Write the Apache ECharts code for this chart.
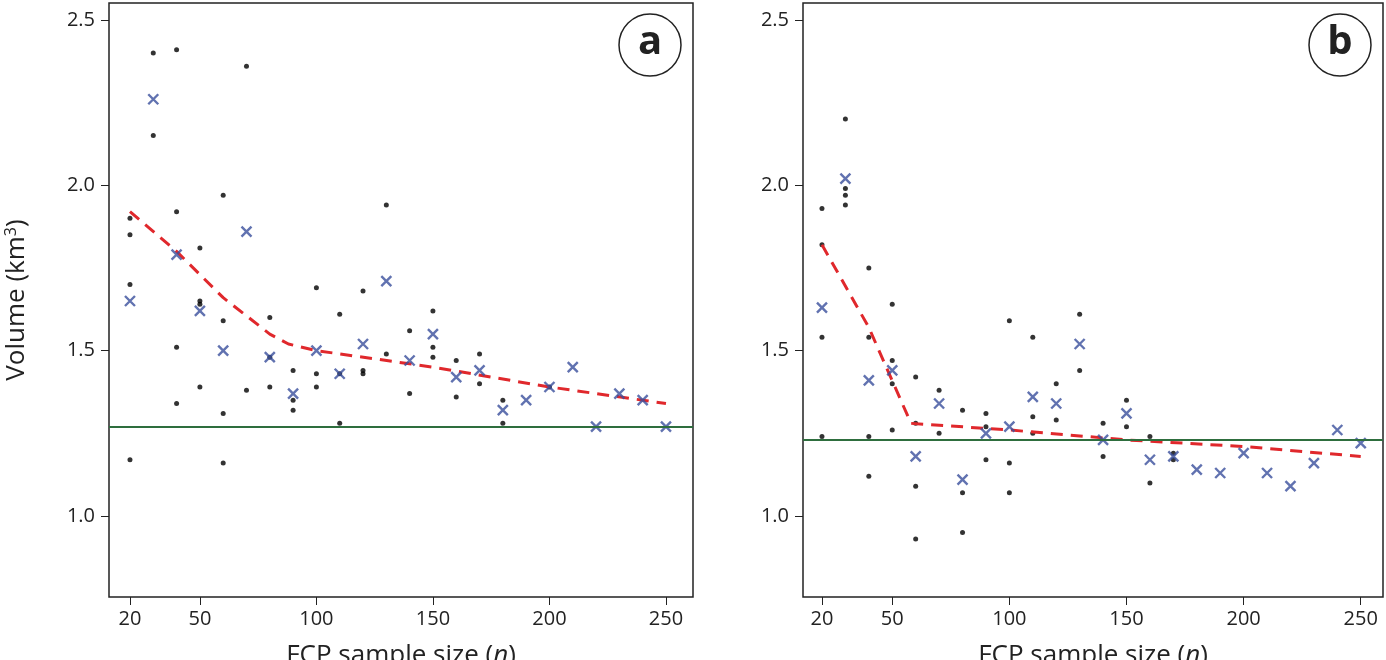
<!DOCTYPE html>
<html>
<head>
<meta charset="utf-8">
<script src="https://cdn.jsdelivr.net/npm/echarts@6/dist/echarts.min.js"></script>
<style>html,body,#main{width:100%;height:100%;margin:0;padding:0;background:#fff}</style>
</head>
<body>
<div id="main"></div>
<script>
// sample sizes
var sizes = [20,30,40,50,60,70,80,90,100,110,120,130,140,150,160,170,180,190,200,210,220,230,240,250];
var xTicks = [20,50,100,150,200,250];
var yTicks = [1.0,1.5,2.0,2.5];

// panel a
var aMeans = [1.65,2.26,1.79,1.62,1.50,1.86,1.48,1.37,1.50,1.43,1.52,1.71,1.47,1.55,1.42,1.44,1.32,1.35,1.39,1.45,1.27,1.37,1.35,1.27];
var aDots = [[20,1.90],[20,1.85],[20,1.70],[20,1.17],[30,2.40],[30,2.15],[40,2.41],[40,1.92],[40,1.51],[40,1.34],
  [50,1.81],[50,1.65],[50,1.64],[50,1.39],[60,1.97],[60,1.59],[60,1.31],[60,1.16],[70,2.36],[70,1.38],
  [80,1.60],[80,1.48],[80,1.39],[90,1.44],[90,1.35],[90,1.32],[100,1.69],[100,1.43],[100,1.39],
  [110,1.61],[110,1.43],[110,1.28],[120,1.68],[120,1.44],[120,1.43],[130,1.94],[130,1.49],
  [140,1.56],[140,1.37],[150,1.62],[150,1.51],[150,1.48],[160,1.47],[160,1.36],[170,1.49],[170,1.40],
  [180,1.35],[180,1.28],[200,1.39]];
var aFit = [[20,1.92],[40,1.80],[60,1.66],[80,1.55],[88,1.52],[100,1.50],[150,1.45],[200,1.39],[250,1.34]];
var aTrue = 1.27;

// panel b
var bMeans = [1.63,2.02,1.41,1.44,1.18,1.34,1.11,1.25,1.27,1.36,1.34,1.52,1.23,1.31,1.17,1.18,1.14,1.13,1.19,1.13,1.09,1.16,1.26,1.22];
var bDots = [[20,1.93],[20,1.82],[20,1.54],[20,1.24],[30,2.20],[30,1.99],[30,1.97],[30,1.94],
  [40,1.75],[40,1.54],[40,1.24],[40,1.12],[50,1.64],[50,1.47],[50,1.40],[50,1.26],
  [60,1.42],[60,1.28],[60,1.09],[60,0.93],[70,1.38],[70,1.25],[80,1.32],[80,1.07],[80,0.95],
  [90,1.31],[90,1.27],[90,1.17],[100,1.59],[100,1.16],[100,1.07],[110,1.54],[110,1.30],[110,1.25],
  [120,1.40],[120,1.29],[130,1.61],[130,1.44],[140,1.28],[140,1.18],[150,1.35],[150,1.27],
  [160,1.24],[160,1.10],[170,1.19],[170,1.17]];
var bFit = [[20,1.82],[40,1.57],[58,1.28],[100,1.26],[150,1.23],[200,1.21],[250,1.18]];
var bTrue = 1.225;

var font = 'Open Sans';
var cross = 'path://M0,0L10,10M10,0L0,10';

function xAxis(i, min, max) {
  return {
    gridIndex: i, type: 'value', min: min, max: max,
    splitLine: {show: false},
    axisLine: {show: false},
    axisTick: {show: true, length: 8, lineStyle: {color: '#222'}, customValues: xTicks},
    axisLabel: {customValues: xTicks, fontSize: 20, color: '#222', fontFamily: font, margin: 12},
    name: '{t|FCP sample size (}{i|n}{t|)}', nameLocation: 'middle', nameGap: 46,
    nameTextStyle: {rich: {t: {fontSize: 26, color: '#222', fontFamily: font}, i: {fontSize: 26, color: '#222', fontFamily: font, fontStyle: 'italic'}}}
  };
}
function yAxis(i, named) {
  return {
    gridIndex: i, type: 'value', min: 0.755, max: 2.551,
    splitLine: {show: false},
    axisLine: {show: false},
    axisTick: {show: true, length: 8, lineStyle: {color: '#222'}, customValues: yTicks},
    axisLabel: {customValues: yTicks, fontSize: 20, color: '#222', fontFamily: font, margin: 14,
      formatter: function (v) { return v.toFixed(1); }},
    name: named ? '{t|Volume (km}{s|3}{t|)}' : '', nameLocation: 'middle', nameGap: 78,
    nameTextStyle: {rich: {t: {fontSize: 26, color: '#222', fontFamily: font}, s: {fontSize: 16, color: '#222', fontFamily: font, verticalAlign: 'top', padding: [0, 0, 12, 0]}}}
  };
}
function panel(i, means, dots, fit, truth) {
  return [
    {type: 'scatter', xAxisIndex: i, yAxisIndex: i, data: dots, symbolSize: 5, itemStyle: {color: '#000'}, silent: true},
    {type: 'scatter', xAxisIndex: i, yAxisIndex: i, data: sizes.map(function (s, k) { return [s, means[k]]; }),
      symbol: cross, symbolSize: 10, itemStyle: {color: 'none', borderColor: '#3a4f9c', borderWidth: 2.4}, silent: true, z: 4},
    {type: 'line', xAxisIndex: i, yAxisIndex: i, data: fit, symbol: 'none', smooth: false,
      lineStyle: {color: '#e0282c', width: 3, type: [12, 8]}, z: 3, silent: true,
      markLine: {symbol: 'none', silent: true, label: {show: false},
        lineStyle: {color: '#2e6e3e', width: 2, type: 'solid'}, data: [{yAxis: truth}]}}
  ];
}

var chart = echarts.init(document.getElementById('main'));
chart.setOption({
  animation: false,
  grid: [
    {left: 109, top: 3, width: 584, height: 594, show: true, borderColor: '#222', borderWidth: 1.5, outerBoundsMode: 'none', containLabel: false},
    {left: 803, top: 3, width: 580, height: 594, show: true, borderColor: '#222', borderWidth: 1.5, outerBoundsMode: 'none', containLabel: false}
  ],
  xAxis: [xAxis(0, 11, 261.6), xAxis(1, 11.9, 259.5)],
  yAxis: [yAxis(0, true), yAxis(1, false)],
  series: panel(0, aMeans, aDots, aFit, aTrue).concat(panel(1, bMeans, bDots, bFit, bTrue)),
  graphic: [
    {type: 'circle', shape: {cx: 650, cy: 45, r: 31}, style: {fill: '#fff', stroke: '#222', lineWidth: 1.5}},
    {type: 'text', x: 650, y: 43, style: {text: 'a', fontSize: 40, fontWeight: 'bold', fill: '#222', fontFamily: font, align: 'center', verticalAlign: 'middle'}},
    {type: 'circle', shape: {cx: 1340, cy: 45, r: 31}, style: {fill: '#fff', stroke: '#222', lineWidth: 1.5}},
    {type: 'text', x: 1340, y: 43, style: {text: 'b', fontSize: 40, fontWeight: 'bold', fill: '#222', fontFamily: font, align: 'center', verticalAlign: 'middle'}}
  ]
});
</script>
</body>
</html>
